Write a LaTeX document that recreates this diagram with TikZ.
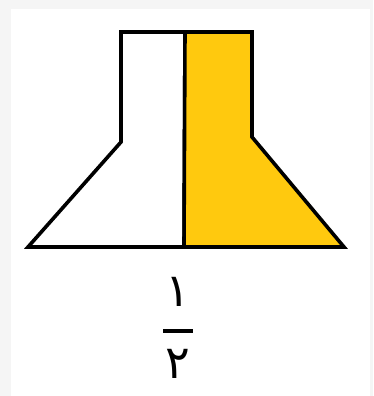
\documentclass[tikz,border=0pt]{standalone}
\usepackage{fontspec}
\usepackage{tikz}
\newfontfamily\arabicfont[Script=Arabic]{DejaVu Sans}
\definecolor{paper}{HTML}{F5F5F5}
\definecolor{gold}{HTML}{FFC90E}
\definecolor{ink}{HTML}{000000}
\tikzset{
  outline/.style={draw=ink,line width=3.6pt,line join=miter},
  half/.style={outline,fill=#1},
  digit/.style={font=\arabicfont\fontsize{46}{50}\selectfont,text=ink,inner sep=0pt},
  fracbar/.style={draw=ink,line width=3.4pt},
}

\begin{document}
\begin{tikzpicture}[x=1pt,y=-1pt]
    % page and panel
    \fill[paper] (0,0) rectangle (373,396);
    \fill[white] (11,9) rectangle (370,396);
    \useasboundingbox (0,0) rectangle (373,396);
    % the two halves
    \path[half=white] (121,32) -- (185,32) -- (184,247) -- (28,247) -- (121,142) -- cycle;
    \path[half=gold] (185,32) -- (252,32) -- (252,137) -- (344,247) -- (184,247) -- cycle;
    % fraction
    \node[digit] (num) at (178,292) {١};
    \node[digit] (den) at (178,364) {٢};
    \coordinate (barl) at (163,331);
    \coordinate (barr) at (193,331);
    \draw[fracbar] (barl) -- (barr);
\end{tikzpicture}
\end{document}
